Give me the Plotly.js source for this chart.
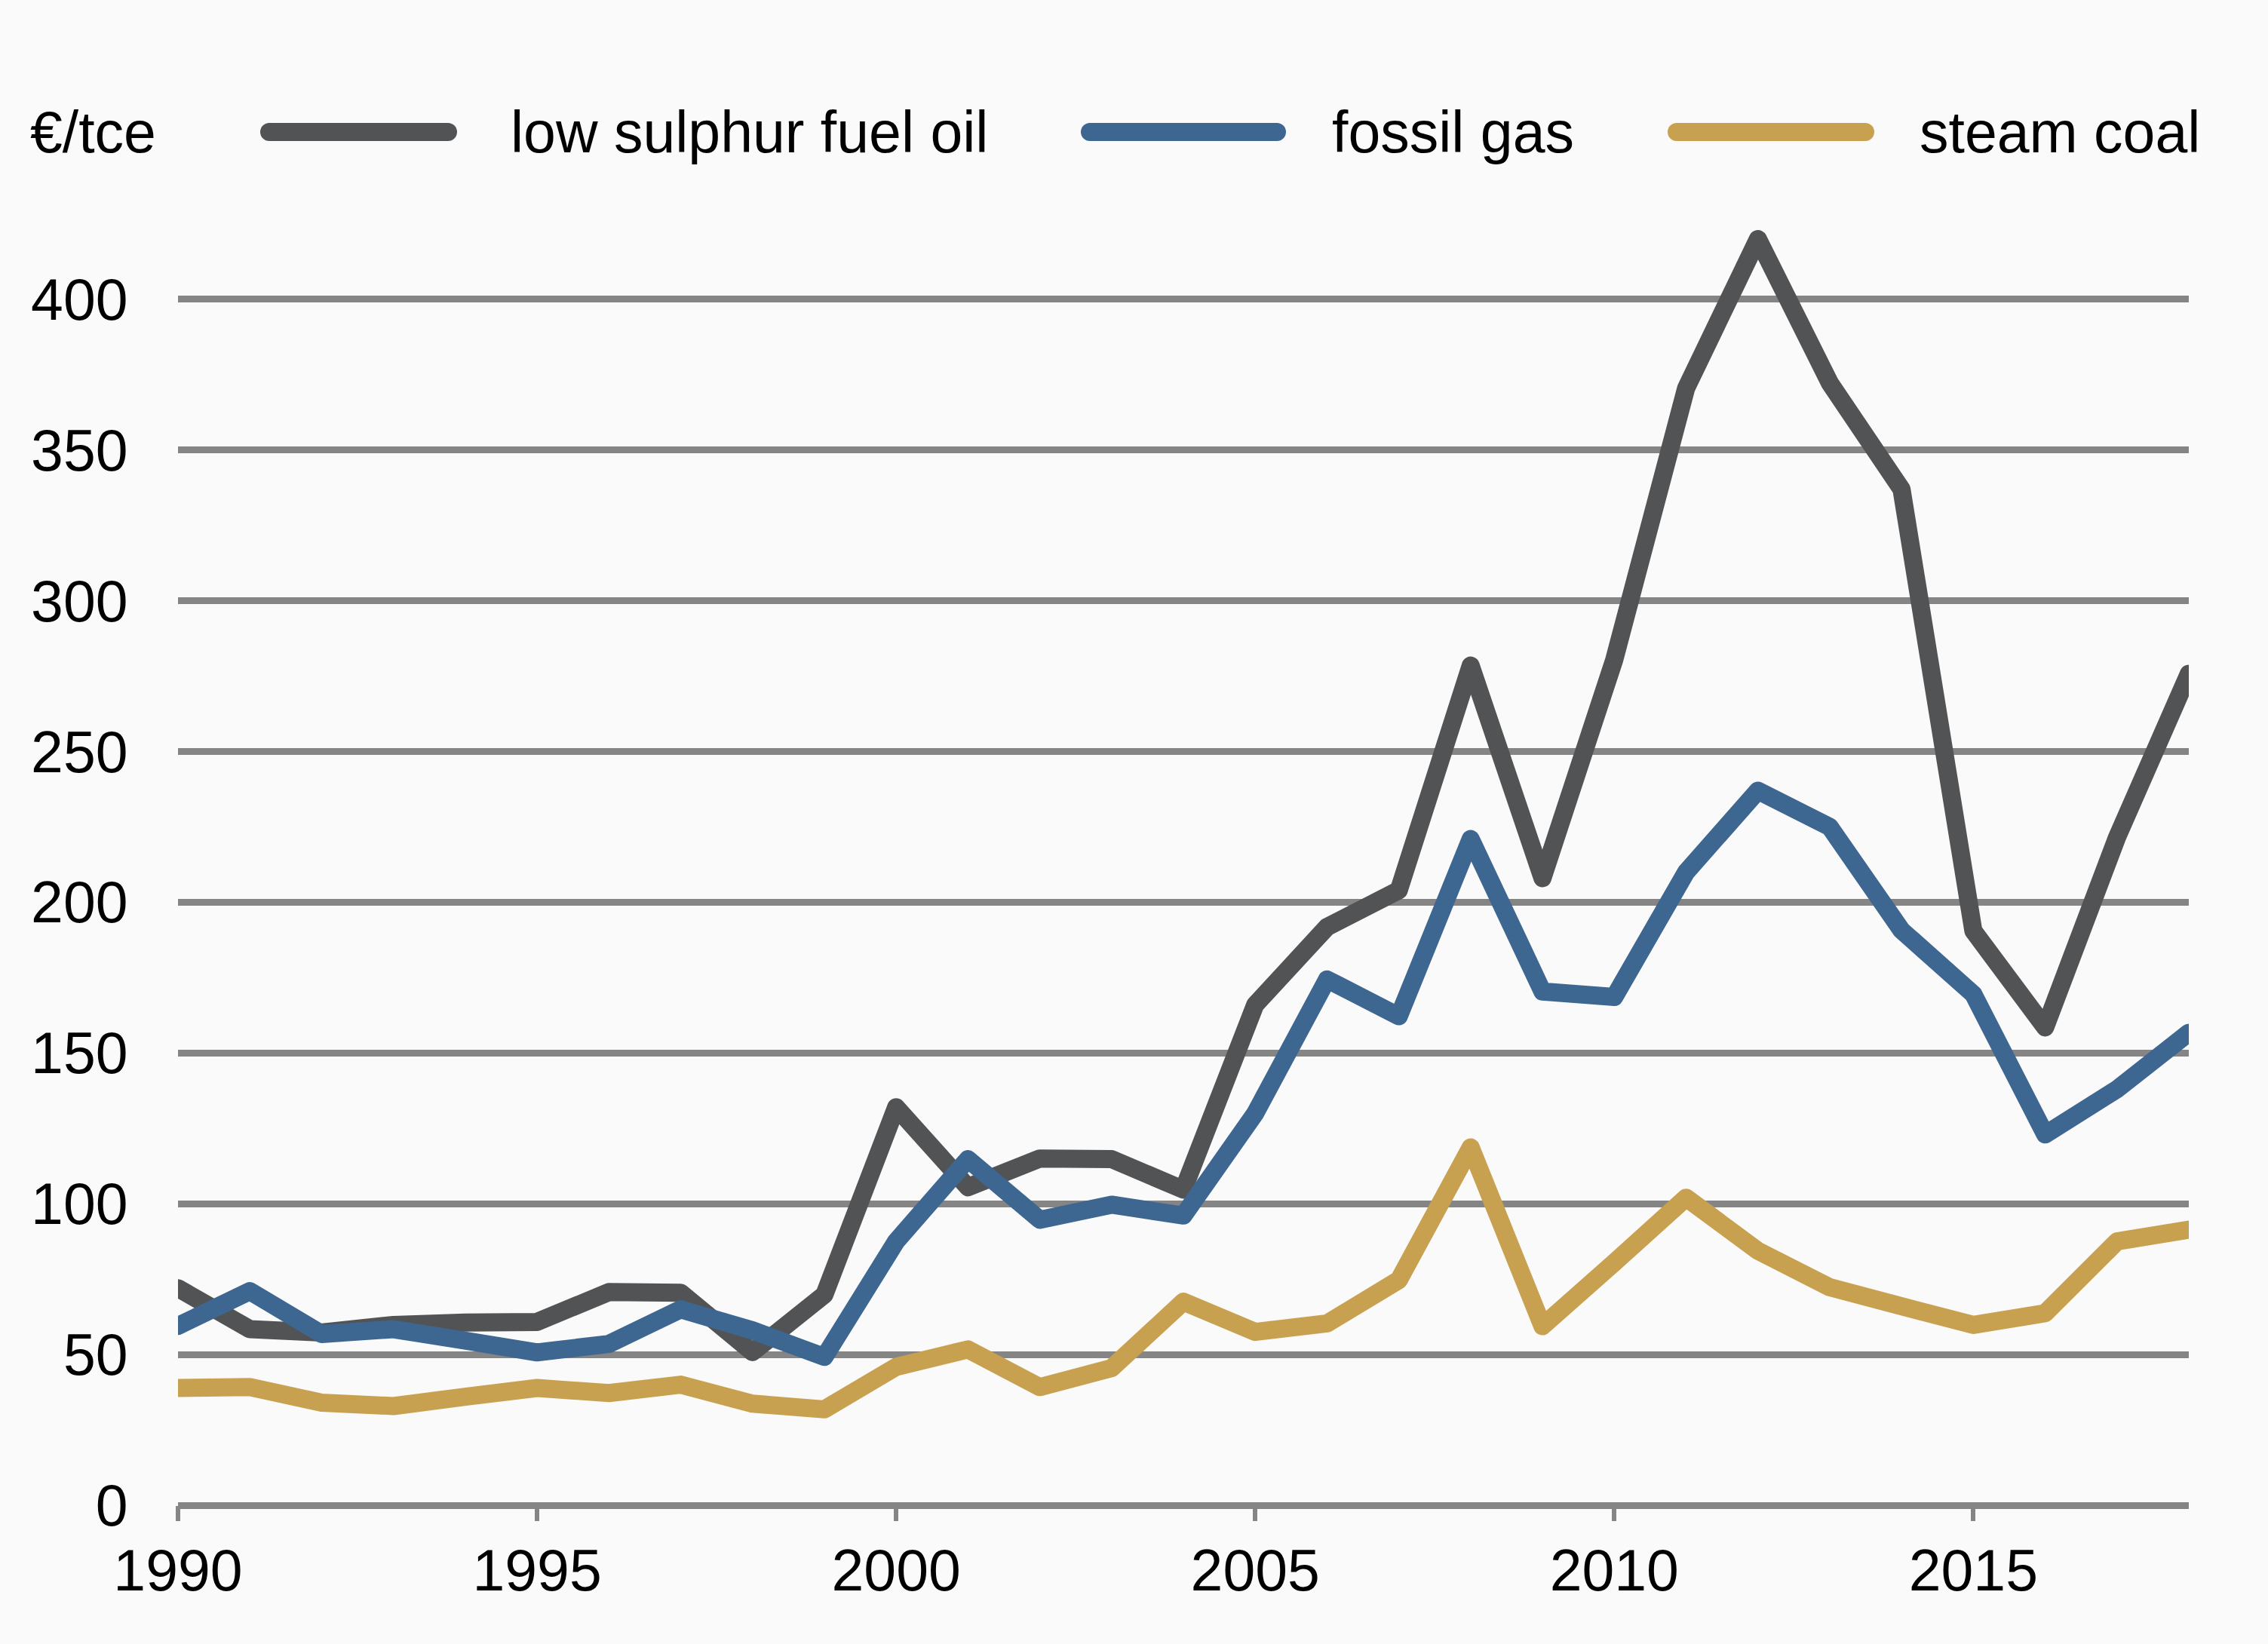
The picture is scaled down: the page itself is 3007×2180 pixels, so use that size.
<!DOCTYPE html>
<html>
<head>
<meta charset="utf-8">
<script src="https://cdn.plot.ly/plotly-3.0.1.min.js"></script>
<style>
  html, body { margin: 0; padding: 0; background: #fafafa; }
  #chart { width: 3007px; height: 2180px; }
  /* rounded joins and ends, like the original */
  .scatterlayer .js-line { stroke-linejoin: round; stroke-linecap: round; }
  .shapelayer path { stroke-linecap: round; }
</style>
</head>
<body>
<div id="chart"></div>
<script>
/* ── data (€/tce) ── */
const years = [1990, 1991, 1992, 1993, 1994, 1995, 1996, 1997, 1998, 1999,
               2000, 2001, 2002, 2003, 2004, 2005, 2006, 2007, 2008, 2009,
               2010, 2011, 2012, 2013, 2014, 2015, 2016, 2017, 2018];

const fuelOil = [72, 58.4, 57.3, 59.8, 60.6, 60.8, 70.7, 70.5, 50.8, 69.8,
                 132, 105.5, 115, 114.8, 104.7, 166, 191.8, 204, 278.5, 208,
                 280.5, 370.5, 420, 372.3, 337, 190.5, 158.5, 221.5, 275.8];

const fossilGas = [59.5, 71, 56.8, 58.4, 54.6, 50.7, 53.5, 65, 58, 49.2,
                   87.5, 114.8, 94.7, 99.7, 96.1, 130, 174.4, 162.2, 221, 170.4,
                   168.6, 210, 237, 225, 190.7, 169.5, 123, 138, 156.7];

const steamCoal = [38.9, 39.2, 34, 32.9, 36, 38.9, 37.2, 40, 33.7, 31.8,
                   45.9, 51.7, 39.2, 45.5, 67.5, 57.5, 60.3, 74.7, 118.7, 59.4,
                   80.5, 102, 84.4, 72.3, 66, 59.8, 63.7, 87.5, 91.4];

const seriesNames = ["low sulphur fuel oil", "fossil gas", "steam coal"];
const unitLabel = "€/tce";
const xTicks = [1990, 1995, 2000, 2005, 2010, 2015];
const yTicks = [0, 50, 100, 150, 200, 250, 300, 350, 400];

/* ── style ── */
const COLORS = ["#525355", "#3d6691", "#c8a150"];
const GRID = "#858585";
const BG = "#fafafa";
const FONT = "Liberation Sans, Arial, sans-serif";
const FS = 77;
const LW = 24;

const W = 3007, H = 2180;
const M = { l: 236, r: 105, t: 277, b: 184 };
const plotW = W - M.l - M.r, plotH = H - M.t - M.b;
const px = v => (v - M.l) / plotW;          // pixel x -> paper x
const py = v => (H - M.b - v) / plotH;      // pixel y -> paper y

/* ── traces ── */
const traces = [fuelOil, fossilGas, steamCoal].map((vals, i) => ({
  type: "scatter", mode: "lines",
  x: years, y: vals,
  name: seriesNames[i],
  line: { color: COLORS[i], width: LW },
  hoverinfo: "x+y",
}));

/* ── custom legend row (long rounded swatches) ── */
const legendRowY = 175;
const swatches = [[357, 594], [1445, 1693], [2223, 2473]];
const labelX = [675, 1764, 2543];

const shapes = swatches.map((s, i) => ({
  type: "line", xref: "paper", yref: "paper",
  x0: px(s[0]), x1: px(s[1]), y0: py(legendRowY), y1: py(legendRowY),
  line: { color: COLORS[i], width: LW },
}));

const annotations = seriesNames.map((n, i) => ({
  xref: "paper", yref: "paper",
  x: px(labelX[i]), y: py(legendRowY),
  xanchor: "left", yanchor: "middle",
  text: n, showarrow: false,
  font: { family: FONT, size: FS, color: "#000" },
}));
annotations.push({
  xref: "paper", yref: "paper",
  x: px(38), y: py(legendRowY),
  xanchor: "left", yanchor: "middle",
  text: unitLabel, showarrow: false,
  font: { family: FONT, size: FS, color: "#000" },
});

/* ── layout ── */
const layout = {
  width: W, height: H,
  paper_bgcolor: BG, plot_bgcolor: BG,
  font: { family: FONT, size: FS, color: "#000" },
  margin: M,
  showlegend: false,
  xaxis: {
    range: [1990, 2018],
    tickvals: xTicks,
    ticks: "outside", ticklen: 20, tickwidth: 6, tickcolor: GRID,
    showgrid: false, zeroline: false, showline: false,
    fixedrange: true,
  },
  yaxis: {
    range: [0, 430],
    tickvals: yTicks,
    ticks: "outside", ticklen: 50, tickcolor: "rgba(0,0,0,0)",
    showgrid: true, gridcolor: GRID, gridwidth: 9,
    zeroline: true, zerolinecolor: GRID, zerolinewidth: 9,
    showline: false,
    fixedrange: true,
  },
  shapes, annotations,
};

Plotly.newPlot("chart", traces, layout, { displayModeBar: false, responsive: false });
</script>
</body>
</html>
